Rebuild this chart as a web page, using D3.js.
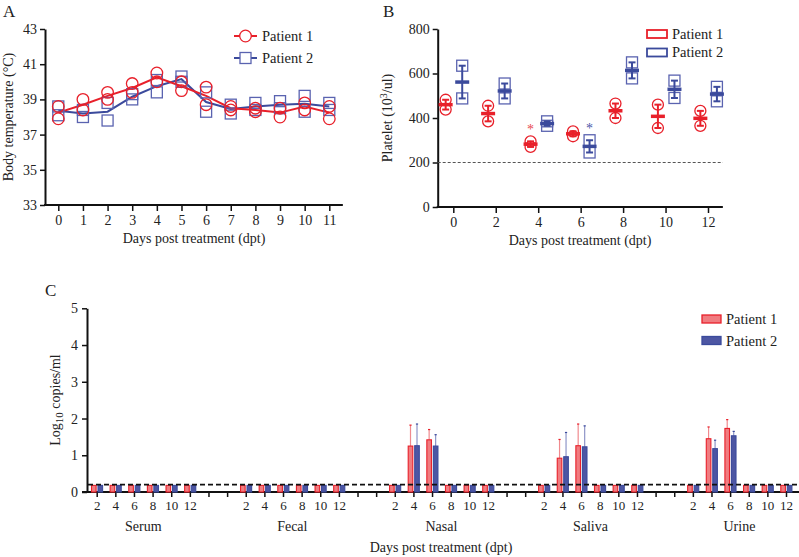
<!DOCTYPE html>
<html><head><meta charset="utf-8">
<script src="https://cdn.jsdelivr.net/npm/d3@7"></script>
<style>
body{margin:0;background:#fff;}
svg text{font-family:"Liberation Serif","DejaVu Serif",serif;fill:#222;}
</style></head>
<body>
<svg id="c" width="799" height="557"></svg>
<script>
// ---------- DATA ----------
// Panel A: body temperature, two readings per day
const daysA = [0,1,2,3,4,5,6,7,8,9,10,11];
const tempP1 = [[38.6,37.9],[39.0,38.4],[39.4,39.0],[39.9,39.4],[40.5,40.0],[40.0,39.5],[39.7,38.7],[38.6,38.4],[38.5,38.3],[38.5,38.0],[38.8,38.4],[38.6,37.9]];
const tempP2 = [[38.6,38.1],[38.4,38.0],[38.8,37.8],[39.3,39.0],[40.1,39.4],[40.3,40.0],[39.4,38.3],[38.7,38.2],[38.8,38.4],[38.9,38.5],[39.2,38.3],[38.8,38.4]];
const ticksA_y = [33,35,37,39,41,43];

// Panel B: platelet counts, two readings per day
const daysB = [0,2,4,6,8,10,12];
const platP1 = [[482,438],[455,385],[295,270],[340,318],[465,400],[460,355],[432,365]];
const platP2 = [[635,488],[555,488],[385,365],[300,245],[650,578],[568,490],[540,475]];
const ticksB_y = [0,200,400,600,800];
const platThreshold = 200;
const starDays = [{day:4, who:1, v:365},{day:6, who:2, v:370}];

// Panel C: viral load (log10 copies/ml), mean and upper error
const groupsC = ["Serum","Fecal","Nasal","Saliva","Urine"];
const daysC = [2,4,6,8,10,12];
const lodC = 0.2;
const base = 0.18;
const viralP1 = {
  Serum:[base,base,base,base,base,base],
  Fecal:[base,base,base,base,base,base],
  Nasal:[base,1.25,1.42,base,base,base],
  Saliva:[base,0.92,1.26,base,base,base],
  Urine:[base,1.45,1.73,base,base,base]
};
const viralP1Err = {
  Serum:[0,0,0,0,0,0], Fecal:[0,0,0,0,0,0],
  Nasal:[0,0.57,0.28,0,0,0],
  Saliva:[0,0.51,0.59,0,0,0],
  Urine:[0,0.32,0.24,0,0,0]
};
const viralP2 = {
  Serum:[base,base,base,base,base,base],
  Fecal:[base,base,base,base,base,base],
  Nasal:[base,1.26,1.25,base,base,base],
  Saliva:[base,0.96,1.23,base,base,base],
  Urine:[base,1.18,1.53,base,base,base]
};
const viralP2Err = {
  Serum:[0,0,0,0,0,0], Fecal:[0,0,0,0,0,0],
  Nasal:[0,0.59,0.31,0,0,0],
  Saliva:[0,0.66,0.57,0,0,0],
  Urine:[0,0.23,0.12,0,0,0]
};
const ticksC_y = [0,1,2,3,4,5];

const RED = "#e8202a", BLUE = "#3b4a9c";
const svg = d3.select("#c");

function styleAxis(g){
  g.attr("font-family",null);
  g.select(".domain").attr("stroke","#111").attr("stroke-width",2);
  g.selectAll(".tick line").attr("stroke","#111").attr("stroke-width",1.5);
  g.selectAll(".tick text").attr("font-size",14).attr("fill","#222");
}
const mean = a => d3.mean(a);

// ---------- PANEL A ----------
{
  const x = d3.scaleLinear().domain([0,11]).range([58.3,329.3]);
  const y = d3.scaleLinear().domain([33,43]).range([205,29]);
  const g = svg.append("g");
  const ya = g.append("g").attr("transform","translate(45,0)")
    .call(d3.axisLeft(y).tickValues(ticksA_y).tickSize(5).tickPadding(3).tickSizeOuter(0));
  styleAxis(ya);
  const xa = g.append("g").attr("transform","translate(0,205)")
    .call(d3.axisBottom(x).tickValues(daysA).tickSize(6).tickPadding(4).tickSizeOuter(0));
  styleAxis(xa);
  xa.select(".domain").remove();
  g.append("line").attr("x1",44).attr("x2",x(11.55)).attr("y1",205).attr("y2",205).attr("stroke","#111").attr("stroke-width",2);

  const line = d3.line().x((d,i)=>x(daysA[i])).y(d=>y(mean(d)));
  g.append("path").datum(tempP2).attr("d",line).attr("fill","none").attr("stroke",BLUE).attr("stroke-width",2);
  g.append("path").datum(tempP1).attr("d",line).attr("fill","none").attr("stroke",RED).attr("stroke-width",2);
  tempP2.forEach((pair,i)=>pair.forEach(v=>{
    g.append("rect").attr("x",x(daysA[i])-5.5).attr("y",y(v)-5.5).attr("width",11).attr("height",11)
      .attr("fill","none").attr("stroke","#5a63b0").attr("stroke-width",1.3);
  }));
  tempP1.forEach((pair,i)=>pair.forEach(v=>{
    g.append("circle").attr("cx",x(daysA[i])).attr("cy",y(v)).attr("r",5.8)
      .attr("fill","none").attr("stroke",RED).attr("stroke-width",1.3);
  }));
  // legend
  g.append("line").attr("x1",234).attr("x2",257).attr("y1",36).attr("y2",36).attr("stroke",RED).attr("stroke-width",2);
  g.append("circle").attr("cx",245.5).attr("cy",36).attr("r",5.8).attr("fill","#fff").attr("stroke",RED).attr("stroke-width",1.3);
  g.append("text").attr("x",262).attr("y",41).attr("font-size",14.5).text("Patient 1");
  g.append("line").attr("x1",234).attr("x2",257).attr("y1",58).attr("y2",58).attr("stroke",BLUE).attr("stroke-width",2);
  g.append("rect").attr("x",240).attr("y",52.5).attr("width",11).attr("height",11).attr("fill","#fff").attr("stroke","#5a63b0").attr("stroke-width",1.3);
  g.append("text").attr("x",262).attr("y",63).attr("font-size",14.5).text("Patient 2");

  g.append("text").attr("transform","translate(13,117) rotate(-90)").attr("text-anchor","middle").attr("font-size",14).text("Body temperature (°C)");
  g.append("text").attr("x",194).attr("y",243).attr("text-anchor","middle").attr("font-size",14).text("Days post treatment (dpt)");
  g.append("text").attr("x",3).attr("y",17).attr("font-size",17).text("A");
}

// ---------- PANEL B ----------
{
  const x = d3.scaleLinear().domain([0,12]).range([453.3,708]);
  const y = d3.scaleLinear().domain([0,800]).range([207,29]);
  const g = svg.append("g");
  const ya = g.append("g").attr("transform","translate(437.7,0)")
    .call(d3.axisLeft(y).tickValues(ticksB_y).tickSize(5).tickPadding(3).tickSizeOuter(0));
  styleAxis(ya);
  const xa = g.append("g").attr("transform","translate(0,207)")
    .call(d3.axisBottom(x).tickValues(daysB).tickSize(6).tickPadding(4).tickSizeOuter(0));
  styleAxis(xa);
  xa.select(".domain").remove();
  g.append("line").attr("x1",436.7).attr("x2",x(12.7)).attr("y1",207).attr("y2",207).attr("stroke","#111").attr("stroke-width",2);
  g.append("line").attr("x1",437.7).attr("x2",x(12.7)).attr("y1",y(platThreshold)).attr("y2",y(platThreshold))
    .attr("stroke","#555").attr("stroke-width",1).attr("stroke-dasharray","3,2");

  function drawSeries(data, off, col, markStroke, isCircle){
    data.forEach((pair,i)=>{
      const cx = x(daysB[i]+off);
      pair.forEach(v=>{
        if(isCircle) g.append("circle").attr("cx",cx).attr("cy",y(v)).attr("r",5.5).attr("fill","none").attr("stroke",markStroke).attr("stroke-width",1.3);
        else g.append("rect").attr("x",cx-5.5).attr("y",y(v)-5.5).attr("width",11).attr("height",11).attr("fill","none").attr("stroke",markStroke).attr("stroke-width",1.3);
      });
      const hi = d3.max(pair), lo = d3.min(pair), m = mean(pair);
      g.append("line").attr("x1",cx).attr("x2",cx).attr("y1",y(hi)).attr("y2",y(lo)).attr("stroke",col).attr("stroke-width",2);
      [hi,lo].forEach(v=>g.append("line").attr("x1",cx-3.5).attr("x2",cx+3.5).attr("y1",y(v)).attr("y2",y(v)).attr("stroke",col).attr("stroke-width",2));
      g.append("line").attr("x1",cx-7).attr("x2",cx+7).attr("y1",y(m)).attr("y2",y(m)).attr("stroke",col).attr("stroke-width",3.5);
    });
  }
  drawSeries(platP1, -0.36, RED, RED, true);
  drawSeries(platP2, 0.42, BLUE, "#5a63b0", false);
  starDays.forEach(s=>{
    g.append("text").attr("x",x(s.day + (s.who===1?-0.36:0.42))).attr("y",y(s.v)+8).attr("text-anchor","middle")
      .attr("font-size",14).style("fill",s.who===1?"#e84a50":"#4a55a8").text("*");
  });
  // legend
  g.append("rect").attr("x",647).attr("y",30).attr("width",20).attr("height",8).attr("fill","#fff").attr("stroke",RED).attr("stroke-width",1.8);
  g.append("text").attr("x",672).attr("y",39).attr("font-size",14.5).text("Patient 1");
  g.append("rect").attr("x",647).attr("y",48.5).attr("width",20).attr("height",8).attr("fill","#fff").attr("stroke",BLUE).attr("stroke-width",1.8);
  g.append("text").attr("x",672).attr("y",57).attr("font-size",14.5).text("Patient 2");

  const yl = g.append("text").attr("transform","translate(392,118) rotate(-90)").attr("text-anchor","middle").attr("font-size",14);
  yl.append("tspan").text("Platelet (10");
  yl.append("tspan").attr("dy",-5).attr("font-size",10).text("3");
  yl.append("tspan").attr("dy",5).text("/ul)");
  g.append("text").attr("x",580).attr("y",245).attr("text-anchor","middle").attr("font-size",14).text("Days post treatment (dpt)");
  g.append("text").attr("x",383).attr("y",17).attr("font-size",17).text("B");
}

// ---------- PANEL C ----------
{
  const slotsPerGroup = 8;
  const nSlots = (groupsC.length-1)*slotsPerGroup + daysC.length; // 38
  const x = d3.scaleLinear().domain([0,nSlots-1]).range([96.7,786]);
  const y = d3.scaleLinear().domain([0,5]).range([492,308.3]);
  const g = svg.append("g");
  const ya = g.append("g").attr("transform","translate(87,0)")
    .call(d3.axisLeft(y).tickValues(ticksC_y).tickFormat(d3.format("d")).tickSize(5).tickPadding(4).tickSizeOuter(0));
  styleAxis(ya);

  // x axis ticks (all slots) and labels
  const slotIdx = d3.range(nSlots);
  const xa = g.append("g").attr("transform","translate(0,492)")
    .call(d3.axisBottom(x).tickValues(slotIdx).tickSize(5).tickPadding(4).tickSizeOuter(0)
      .tickFormat(i=>{const k=i%slotsPerGroup; return k<daysC.length? daysC[k] : "";}));
  styleAxis(xa);
  xa.selectAll(".tick text").attr("font-size",13);
  xa.select(".domain").remove();
  g.append("line").attr("x1",82).attr("x2",799).attr("y1",492).attr("y2",492).attr("stroke","#111").attr("stroke-width",2);

  const bw = 4.6;
  groupsC.forEach((grp,gi)=>{
    daysC.forEach((d,di)=>{
      const cx = x(gi*slotsPerGroup+di);
      const v1 = viralP1[grp][di], e1 = viralP1Err[grp][di];
      const v2 = viralP2[grp][di], e2 = viralP2Err[grp][di];
      if(e1>0){
        g.append("line").attr("x1",cx-2.9).attr("x2",cx-2.9).attr("y1",y(v1)).attr("y2",y(v1+e1)).attr("stroke","#f08a8e").attr("stroke-width",1.2);
        g.append("line").attr("x1",cx-4).attr("x2",cx-1.8).attr("y1",y(v1+e1)).attr("y2",y(v1+e1)).attr("stroke",RED).attr("stroke-width",1.2);
      }
      if(e2>0){
        g.append("line").attr("x1",cx+3.6).attr("x2",cx+3.6).attr("y1",y(v2)).attr("y2",y(v2+e2)).attr("stroke","#8e95c8").attr("stroke-width",1.2);
        g.append("line").attr("x1",cx+2.5).attr("x2",cx+4.7).attr("y1",y(v2+e2)).attr("y2",y(v2+e2)).attr("stroke",BLUE).attr("stroke-width",1.2);
      }
      g.append("rect").attr("x",cx-5.2).attr("y",y(v1)).attr("width",bw).attr("height",y(0)-y(v1))
        .attr("fill","#f07c80").attr("stroke",RED).attr("stroke-width",1.1);
      g.append("rect").attr("x",cx+1.3).attr("y",y(v2)).attr("width",bw).attr("height",y(0)-y(v2))
        .attr("fill","#4d56a3").attr("stroke",BLUE).attr("stroke-width",1.1);
    });
    g.append("text").attr("x",x(gi*slotsPerGroup+2.5)).attr("y",531).attr("text-anchor","middle").attr("font-size",14).text(grp);
  });
  g.append("line").attr("x1",88).attr("x2",799).attr("y1",y(lodC)).attr("y2",y(lodC))
    .attr("stroke","#111").attr("stroke-width",1.6).attr("stroke-dasharray","5,3");

  // legend
  g.append("rect").attr("x",702).attr("y",315).attr("width",19).attr("height",8).attr("fill","#f07c80").attr("stroke",RED).attr("stroke-width",1.3);
  g.append("text").attr("x",726).attr("y",324).attr("font-size",14.5).text("Patient 1");
  g.append("rect").attr("x",702).attr("y",336.5).attr("width",19).attr("height",8).attr("fill","#4d56a3").attr("stroke",BLUE).attr("stroke-width",1.3);
  g.append("text").attr("x",726).attr("y",346).attr("font-size",14.5).text("Patient 2");

  const yl = g.append("text").attr("transform","translate(60,400) rotate(-90)").attr("text-anchor","middle").attr("font-size",14);
  yl.append("tspan").text("Log");
  yl.append("tspan").attr("dy",3).attr("font-size",11).text("10");
  yl.append("tspan").attr("dy",-3).text("\u00A0copies/ml");
  g.append("text").attr("x",441).attr("y",552).attr("text-anchor","middle").attr("font-size",14).text("Days post treatment (dpt)");
  g.append("text").attr("x",45).attr("y",296).attr("font-size",17).text("C");
}
</script>
</body></html>
